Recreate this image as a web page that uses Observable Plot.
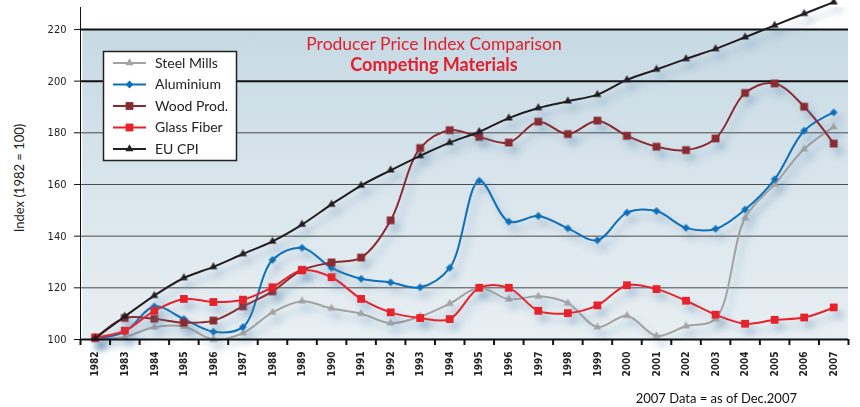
<!DOCTYPE html>
<html><head><meta charset="utf-8">
<script src="https://cdn.jsdelivr.net/npm/d3@7"></script>
<script src="https://cdn.jsdelivr.net/npm/@observablehq/plot@0.6"></script>
<style>
body{margin:0;background:#fff;}
#chart{position:relative;width:860px;height:407px;}
</style>
</head><body>
<div id="chart"></div>
<svg width="0" height="0" style="position:absolute"><defs>
<linearGradient id="panelGrad" x1="0" y1="0" x2="0" y2="1">
<stop offset="0" stop-color="#c6d9e3"/><stop offset="0.5" stop-color="#d9e5ec"/><stop offset="1" stop-color="#e8eff3"/></linearGradient>
<filter id="shadow" filterUnits="userSpaceOnUse" x="0" y="0" width="860" height="407">
<feGaussianBlur in="SourceAlpha" stdDeviation="3.5"/>
<feOffset dx="5" dy="7" result="b"/>
<feFlood flood-color="#5f8bb0" flood-opacity="0.4"/>
<feComposite in2="b" operator="in"/>
<feMerge><feMergeNode/><feMergeNode in="SourceGraphic"/></feMerge>
</filter></defs></svg>
<script>
const years = [1982,1983,1984,1985,1986,1987,1988,1989,1990,1991,1992,1993,1994,1995,1996,1997,1998,1999,2000,2001,2002,2003,2004,2005,2006,2007];
const steelMills  = [100.5,101,104.8,105,100,102.5,110.5,114.8,112,110,106.3,108.9,113.9,120,115.6,116.7,114.1,104.8,109.2,101.4,105.2,108,147.1,160.1,173.7,182.3];
const aluminium   = [100.5,103,112.8,107.9,103,104.8,130.8,135.5,127.7,123.5,122.1,120.2,127.7,161.4,145.6,147.8,143,138.4,149.1,149.7,143.2,142.8,150.3,162,180.8,187.9];
const woodProd    = [100.5,108.3,108,106.5,107.3,112.8,118.6,126.9,129.8,131.7,146.1,174.1,181,178.4,176.2,184.3,179.5,184.7,178.8,174.6,173.3,177.8,195.4,199.1,190.1,175.8];
const glassFiber  = [100.8,103.4,111.1,115.7,114.5,115.4,120.2,126.8,124.1,115.7,110.5,108.3,107.9,120,120,111.1,110.2,113.2,121,119.5,115,109.6,106.1,107.6,108.5,112.4];
const euCpi       = [100.5,108.9,117,123.8,128.1,133.1,138,144.5,152.3,159.6,165.5,171.1,176.2,180.4,185.7,189.6,192.2,194.8,200.5,204.5,208.6,212.5,217,221.6,226.1,230.6];

const seriesNames  = ["Steel Mills","Aluminium","Wood Prod.","Glass Fiber","EU CPI"];
const seriesValues = [steelMills, aluminium, woodProd, glassFiber, euCpi];
const seriesColors = ["#a3a3a3","#0b70b9","#8a2a30","#e8202a","#231f20"];
const seriesSymbols = ["triangle","square","square","square","triangle"];
const seriesRotate = [0,45,0,0,0];
const seriesR = [3,3.1,4.4,4.4,3];
const yTicks = [100,120,140,160,180,200,220];
const titleLine1 = "Producer Price Index Comparison";
const titleLine2 = "Competing Materials";
const yLabel = "Index (1982 = 100)";
const footnote = "2007 Data = as of Dec.2007";

const xStart = years[0] - 0.5, xEnd = years[years.length-1] + 0.5;
const boundaries = d3.range(xStart, xEnd + 0.01, 1);

const rows = seriesNames.map((name, i) => years.map((year, j) => ({year, value: seriesValues[i][j], series: name})));

const seriesMarks = rows.flatMap((data, i) => [
  Plot.line(data, {x: "year", y: "value", stroke: seriesColors[i], strokeWidth: 2, curve: "catmull-rom"}),
  Plot.dot(data, {x: "year", y: "value", symbol: seriesSymbols[i], fill: seriesColors[i], r: seriesR[i], rotate: seriesRotate[i], stroke: "none"})
]);

const chart = Plot.plot({
  width: 860, height: 407,
  marginLeft: 80, marginRight: 12, marginTop: 7, marginBottom: 68,
  style: {fontFamily: "'DejaVu Sans Condensed','DejaVu Sans',sans-serif", fontSize: "10px", color: "#222", background: "#fff", overflow: "visible"},
  x: {domain: [xStart, xEnd], label: null},
  y: {domain: [100, 228.5], label: null},
  marks: [
    Plot.rect([null], {x1: xStart + 0.08, x2: xEnd, y1: yTicks[0], y2: yTicks[yTicks.length-1], fill: "url(#panelGrad)"}),
    Plot.ruleY(yTicks.filter(v => v > 100 && v < 200), {stroke: "#4a4a4a", strokeWidth: 1}),
    Plot.ruleY(yTicks.filter(v => v >= 200), {stroke: "#111", strokeWidth: 2}),
    Plot.ruleX([xStart], {stroke: "#111", strokeWidth: 1}),
    ...seriesMarks,
    Plot.ruleY([100], {stroke: "#111", strokeWidth: 2}),
    Plot.axisY({ticks: yTicks, tickSize: 6, tickPadding: 8, fontSize: 11, label: null, stroke: "#111"}),
    Plot.axisX({ticks: boundaries, tickSize: 6, strokeWidth: 2, tickFormat: () => "", label: null, stroke: "#111"}),
    Plot.axisX({ticks: years, tickSize: 0, tickPadding: 12, tickRotate: -90, fontSize: 10, fontWeight: 600, tickFormat: d => String(d), label: null})
  ]
});
document.getElementById("chart").appendChild(chart);

const svg = d3.select(chart);
svg.selectAll('g[aria-label="line"], g[aria-label="dot"]').attr("filter", "url(#shadow)");

// title
const title = svg.append("g").attr("font-family", "Lato, 'Open Sans', sans-serif").attr("fill", "#e31e2d").attr("text-anchor", "middle");
title.append("text").attr("x", 434).attr("y", 50).attr("font-size", 17.5).text(titleLine1);
title.append("text").attr("x", 434).attr("y", 71).attr("font-size", 18).attr("font-weight", "bold").text(titleLine2);

// y label
svg.append("text").attr("transform", "translate(24,178) rotate(-90)").attr("text-anchor", "middle")
  .attr("font-family", "Lato, sans-serif").attr("font-size", 13).attr("fill", "#222").text(yLabel);

// footnote
svg.append("text").attr("x", 797).attr("y", 403).attr("text-anchor", "end")
  .attr("font-family", "Lato, sans-serif").attr("font-size", 13).attr("fill", "#111").text(footnote);

// legend
const lg = svg.append("g").attr("font-family", "Lato, sans-serif").attr("font-size", 14).attr("fill", "#222").attr("text-anchor", "start");
lg.append("rect").attr("x", 103.5).attr("y", 51.5).attr("width", 133).attr("height", 109).attr("fill", "#fff").attr("stroke", "#222").attr("stroke-width", 1.5);
seriesNames.forEach((name, i) => {
  const cy = 63 + i * 21.5;
  lg.append("line").attr("x1", 113).attr("x2", 146).attr("y1", cy).attr("y2", cy).attr("stroke", seriesColors[i]).attr("stroke-width", 2);
  const area = Math.PI * seriesR[i] * seriesR[i];
  const sym = seriesSymbols[i] === "triangle" ? d3.symbolTriangle : d3.symbolSquare;
  lg.append("path").attr("d", d3.symbol(sym, area)()).attr("fill", seriesColors[i])
    .attr("transform", `translate(129.5,${cy}) rotate(${seriesRotate[i]})`);
  lg.append("text").attr("x", 155).attr("y", cy).attr("dy", "0.35em").attr("text-anchor", "start").text(name);
});
</script>
</body></html>
